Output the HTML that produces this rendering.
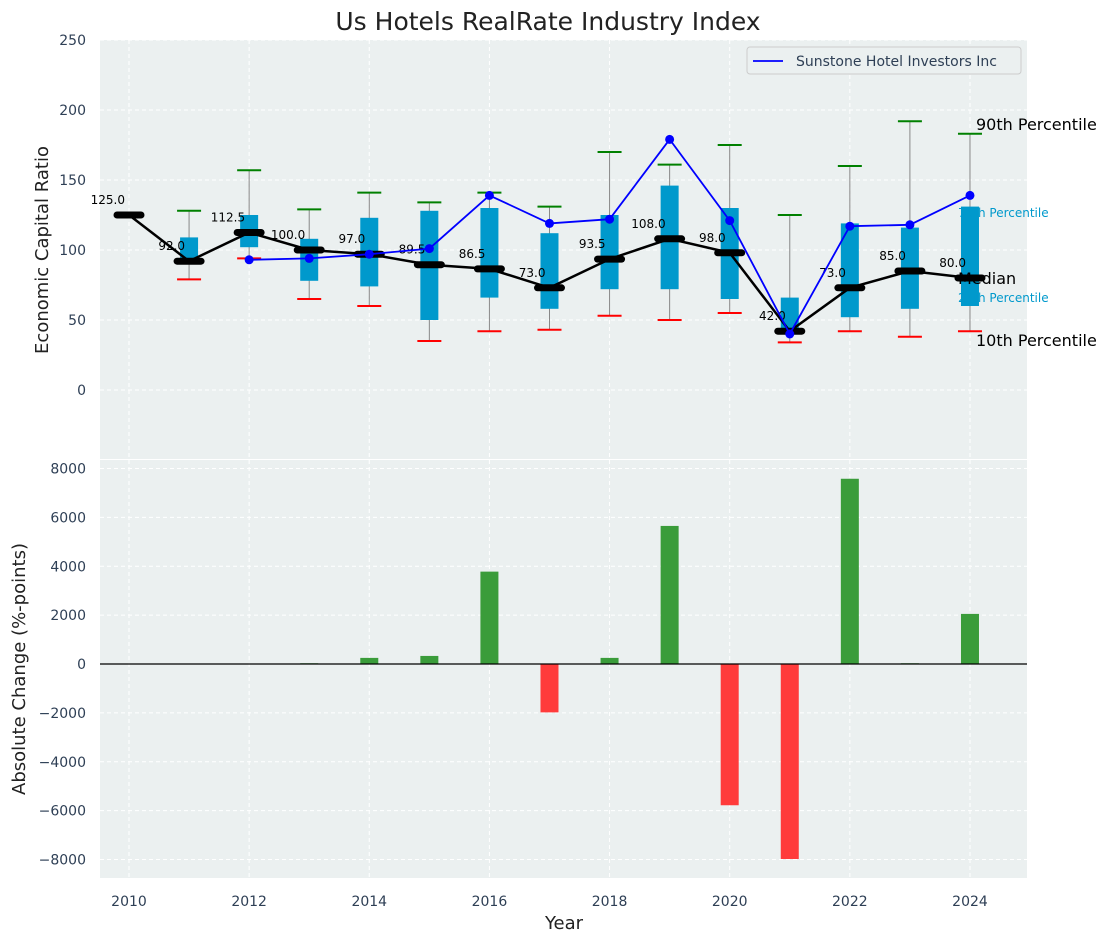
<!DOCTYPE html>
<html><head><meta charset="utf-8"><style>
body{margin:0;background:#fff}
svg{font-family:"DejaVu Sans","Liberation Sans",sans-serif}
</style></head><body>
<svg id="c" width="1111" height="942" xmlns="http://www.w3.org/2000/svg"></svg>
<script>
const years=[2010,2011,2012,2013,2014,2015,2016,2017,2018,2019,2020,2021,2022,2023,2024];
const medians=[125,92,112.5,100,97,89.5,86.5,73,93.5,108,98,42,73,85,80];
const p25=[null,90,102,78,74,50,66,58,72,72,65,42,52,58,60];
const p75=[null,109,125,108,123,128,130,112,125,146,130,66,119,116,131];
const p10=[null,79,94,65,60,35,42,43,53,50,55,34,42,38,42];
const p90=[null,128,157,129,141,134,141,131,170,161,175,125,160,192,183];
const company=[null,null,93,94,97,101,139,119,122,179,121,40,117,118,139];
const changes=[0,0,0,30,250,330,3780,-1980,250,5650,-5780,-7980,7580,30,2050];
const topTicks=[0,50,100,150,200,250];
const botTicks=[-8000,-6000,-4000,-2000,0,2000,4000,6000,8000];
const xTicks=[2010,2012,2014,2016,2018,2020,2022,2024];

const NS="http://www.w3.org/2000/svg";
const svg=document.getElementById('c');
function el(t,a,p){const e=document.createElementNS(NS,t);for(const k in a)e.setAttribute(k,a[k]);(p||svg).appendChild(e);return e;}
const L=100,R=1027,T1=40,B1=459,T2=460,B2=878;
const X=v=>129+(v-2010)*60.07;
const Y1=v=>390-v*1.4;
const Y2=v=>664-v*(195.5/8000);

let bg1=el('rect',{x:L,y:T1,width:R-L,height:B1-T1,fill:'#ebf0f0'});

let bg2=el('rect',{x:L,y:T2,width:R-L,height:B2-T2,fill:'#ebf0f0'});


xTicks.forEach(v=>{
  el('line',{x1:X(v),x2:X(v),y1:T1,y2:B1,stroke:'#fff','stroke-dasharray':'4,3'});
  el('line',{x1:X(v),x2:X(v),y1:T2,y2:B2,stroke:'#fff','stroke-dasharray':'4,3'});
  const t=el('text',{x:X(v),y:906,'text-anchor':'middle','font-size':14,fill:'#2e3f55'});t.textContent=v;
  
});
topTicks.forEach(v=>{
  el('line',{x1:L,x2:R,y1:Y1(v),y2:Y1(v),stroke:'#fff','stroke-dasharray':'4,3'});
  const t=el('text',{x:86,y:Y1(v)+5,'text-anchor':'end','font-size':14,fill:'#2e3f55'});t.textContent=v;
  
});
botTicks.forEach(v=>{
  el('line',{x1:L,x2:R,y1:Y2(v),y2:Y2(v),stroke:'#fff','stroke-dasharray':'4,3'});
  const t=el('text',{x:86,y:Y2(v)+5,'text-anchor':'end','font-size':14,fill:'#2e3f55'});t.textContent=v<0?'\u2212'+(-v):v;
  
});

years.forEach((yr,i)=>{
  const x=X(yr);
  if(p10[i]!=null){
    const w=el('line',{x1:x,x2:x,y1:Y1(p90[i]),y2:Y1(p10[i]),stroke:'#888','stroke-width':1});
    
    const c1=el('line',{x1:x-12,x2:x+12,y1:Y1(p90[i]),y2:Y1(p90[i]),stroke:'green','stroke-width':2});
    
    const c2=el('line',{x1:x-12,x2:x+12,y1:Y1(p10[i]),y2:Y1(p10[i]),stroke:'red','stroke-width':2});
    
  }
  if(p25[i]!=null){
    const b=el('rect',{x:x-9,y:Y1(p75[i]),width:18,height:Y1(p25[i])-Y1(p75[i]),fill:'#0099cc'});
    
  }
});
const mp=el('polyline',{points:years.map((y,i)=>X(y)+','+Y1(medians[i])).join(' '),fill:'none',stroke:'#000','stroke-width':2.5});

years.forEach((yr,i)=>{
  const x=X(yr),y=Y1(medians[i]);
  const m=el('line',{x1:x-12,x2:x+12,y1:y,y2:y,stroke:'#000','stroke-width':7,'stroke-linecap':'round'});
  
  const t=el('text',{x:x-4,y:y-11,'text-anchor':'end','font-size':12,fill:'#000'});t.textContent=medians[i].toFixed(1);
  
});
const pts=[];years.forEach((y,i)=>{if(company[i]!=null)pts.push([X(y),Y1(company[i])]);});
const cl=el('polyline',{points:pts.map(p=>p.join(',')).join(' '),fill:'none',stroke:'#0000ff','stroke-width':1.8});

pts.forEach(p=>{const c=el('circle',{cx:p[0],cy:p[1],r:4.5,fill:'#0000ff'});
  });

[['90th Percentile',976,130,16,'#000'],['75th Percentile',958,217,12,'#0099cc'],['Median',958,284,16,'#000'],['25th Percentile',958,302,12,'#0099cc'],['10th Percentile',976,346,16,'#000']].forEach(a=>{
  const t=el('text',{x:a[1],y:a[2],'font-size':a[3],fill:a[4]});t.textContent=a[0];
  
});

const lg=el('g',{});
el('rect',{x:747,y:47,width:274,height:27,rx:3,fill:'#ebf0f0',stroke:'#ccc'},lg);
el('line',{x1:753,x2:783,y1:61,y2:61,stroke:'#0000ff','stroke-width':1.8},lg);
const lt=el('text',{x:796,y:66,'font-size':14,fill:'#2e3f55'},lg);lt.textContent='Sunstone Hotel Investors Inc';

years.forEach((yr,i)=>{
  const v=changes[i],y0=Y2(0),y1=Y2(v);
  const b=el('rect',{x:X(yr)-9,y:Math.min(y0,y1),width:18,height:Math.abs(y1-y0),fill:v>=0?'#3a9c3a':'#ff3b3b'});
  
});
const zl=el('line',{x1:L,x2:R,y1:Y2(0),y2:Y2(0),stroke:'#000','stroke-width':1.2});


let t=el('text',{x:548,y:30,'text-anchor':'middle','font-size':25,fill:'#222'});t.textContent='Us Hotels RealRate Industry Index';

t=el('text',{x:0,y:0,'text-anchor':'middle','font-size':18,fill:'#222',transform:'translate(48,250) rotate(-90)'});t.textContent='Economic Capital Ratio';

t=el('text',{x:0,y:0,'text-anchor':'middle','font-size':18,fill:'#222',transform:'translate(25,669) rotate(-90)'});t.textContent='Absolute Change (%-points)';

t=el('text',{x:564,y:929,'text-anchor':'middle','font-size':18,fill:'#222'});t.textContent='Year';

</script>
</body></html>
